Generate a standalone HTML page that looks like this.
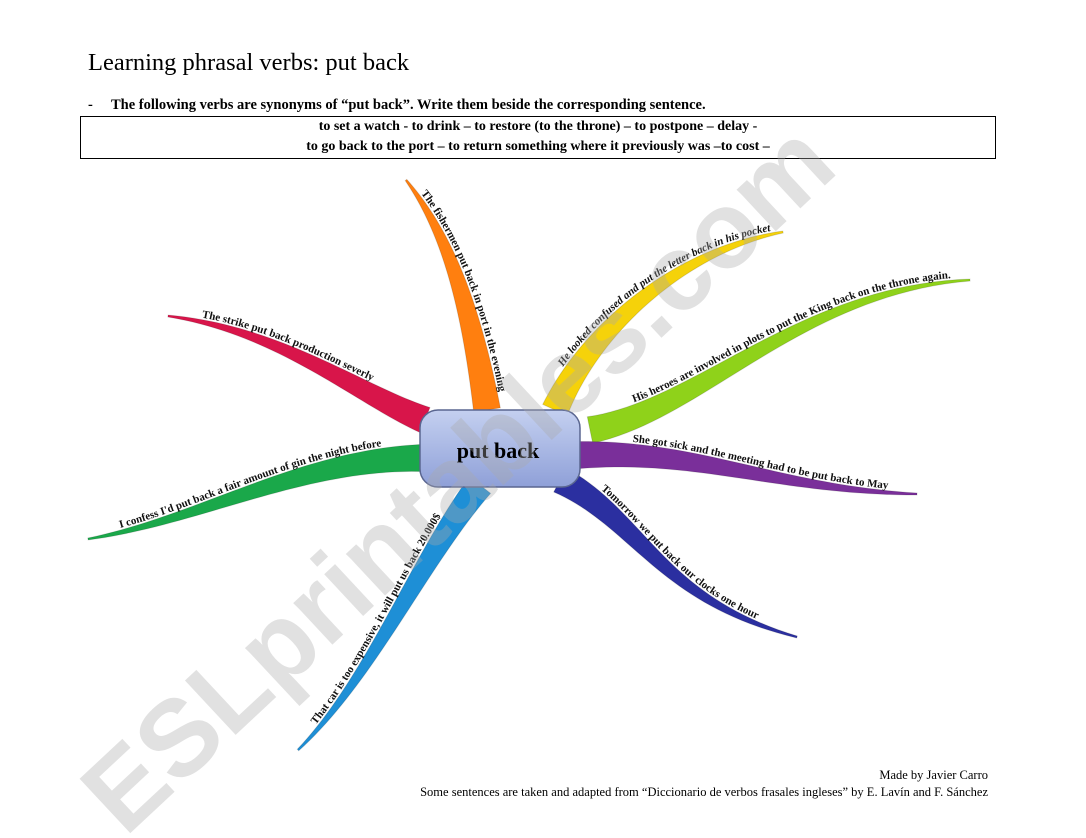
<!DOCTYPE html>
<html><head><meta charset="utf-8"><style>
body{margin:0;background:#fff;width:1086px;height:838px;overflow:hidden;position:relative;font-family:"Liberation Serif",serif;}
.t{position:absolute;left:88px;top:49px;font-size:24.5px;}
.i{position:absolute;left:88px;top:97px;font-size:14.5px;font-weight:bold;}
.box{position:absolute;left:80px;top:116px;width:914px;height:41px;border:1px solid #000;text-align:center;font-weight:bold;font-size:14px;line-height:20px;}
.f{position:absolute;right:98px;font-size:12.5px;text-align:right;}
svg{position:absolute;left:0;top:0;}
</style></head><body>
<div class="t">Learning phrasal verbs: put back</div>
<div class="i">-&nbsp;&nbsp;&nbsp;&nbsp;&nbsp;The following verbs are synonyms of “put back”. Write them beside the corresponding sentence.</div>
<div class="box">to set a watch - to drink – to restore (to the throne) – to postpone – delay -<br>to go back to the port – to return something where it previously was –to cost –</div>
<svg width="1086" height="838" id="s">
<defs>
<linearGradient id="g" x1="0" y1="0" x2="0" y2="1"><stop offset="0" stop-color="#c4d0f0"/><stop offset="1" stop-color="#8fa0d8"/></linearGradient>
<path id="tr" d=""/><path id="tg" d=""/><path id="tb" d=""/><path id="to" d=""/>
<path id="ty" d=""/><path id="tl" d=""/><path id="tp" d=""/><path id="tn" d=""/>
</defs>
<g id="br"></g>
<rect x="420" y="410" width="160" height="77" rx="18" fill="url(#g)" stroke="#5a6690" stroke-width="1.5"/>
<text x="498" y="458" text-anchor="middle" font-family="Liberation Serif" font-weight="bold" font-size="22">put back</text>
<g font-family="Liberation Serif" font-weight="bold" font-size="11" fill="#111">
<text><textPath href="#tr">The strike put back production severly</textPath></text>
<text><textPath href="#tg">I confess I'd put back a fair amount of gin the night before</textPath></text>
<text><textPath href="#tb">That car is too expensive, it will put us back 20.000$</textPath></text>
<text><textPath href="#to">The fishermen put back in port in the evening</textPath></text>
<text font-style="italic"><textPath href="#ty">He looked confused and put the letter back in his pocket</textPath></text>
<text><textPath href="#tl">His heroes are involved in plots to put the King back on the throne again.</textPath></text>
<text><textPath href="#tp">She got sick and the meeting had to be put back to May</textPath></text>
<text><textPath href="#tn">Tomorrow we put back our clocks one hour</textPath></text>
</g>
<text x="0" y="0" transform="translate(125,838) rotate(-43)" font-family="Liberation Sans" font-weight="bold" font-size="108" fill="#aaa" opacity="0.35">ESLprintables.com</text>
</svg>
<div class="f" style="top:768px">Made by Javier Carro</div>
<div class="f" style="top:785px">Some sentences are taken and adapted from “Diccionario de verbos frasales ingleses” by E. Lavín and F. Sánchez</div>
<script>
var B=[
["tr","#d8154a",[425,420],[360,395],[280,330],[168,316],-7,true],
["tg","#1aa84a",[420,458],[300,460],[200,520],[88,539],-7,true],
["tb","#1e8fd6",[480,485],[420,560],[370,680],[298,750],-9,true],
["to","#ff7f0f",[487,410],[470,300],[445,230],[406,180],10,true],
["ty","#f5d20a",[555,410],[590,330],[680,250],[783,232],-8,false],
["tl","#8fd21a",[590,430],[700,410],[800,290],[970,280],-9,false],
["tp","#7a2f9a",[580,455],[700,450],[780,490],[917,494],-7,false],
["tn","#2b2fa0",[560,480],[640,520],[660,600],[797,637],-9,false]];
function bz(a,b,c,d,t){var u=1-t;return [u*u*u*a[0]+3*u*u*t*b[0]+3*u*t*t*c[0]+t*t*t*d[0],u*u*u*a[1]+3*u*u*t*b[1]+3*u*t*t*c[1]+t*t*t*d[1]];}
var g=document.getElementById("br"),N=40;
B.forEach(function(b){
 var pts=[];for(var i=0;i<=N;i++)pts.push(bz(b[2],b[3],b[4],b[5],i/N));
 var L=[],R=[];
 for(var i=0;i<=N;i++){
  var a=pts[Math.max(0,i-1)],c=pts[Math.min(N,i+1)];
  var dx=c[0]-a[0],dy=c[1]-a[1],l=Math.hypot(dx,dy);var nx=dy/l,ny=-dx/l;
  var w=(1-i/N)*12.5+1;
  L.push([pts[i][0]+nx*w,pts[i][1]+ny*w]);R.push([pts[i][0]-nx*w,pts[i][1]-ny*w]);
 }
 var d="M"+L.map(p=>p.join(",")).join("L")+"L"+R.reverse().map(p=>p.join(",")).join("L")+"Z";
 var p=document.createElementNS("http://www.w3.org/2000/svg","path");p.setAttribute("d",d);p.setAttribute("fill",b[1]);
 p.setAttribute("stroke","#00000022");g.appendChild(p);
 var tp=[];var seq=b[7]?pts.slice().reverse():pts;
 for(var i=0;i<=N;i++){
  var a=seq[Math.max(0,i-1)],c=seq[Math.min(N,i+1)];
  var dx=c[0]-a[0],dy=c[1]-a[1],l=Math.hypot(dx,dy);
  var nx=dy/l,ny=-dx/l;
  var idx=b[7]?N-i:i;var w=(1-idx/N)*12.5+3;
  tp.push([seq[i][0]+nx*w,seq[i][1]+ny*w]);
 }
 var start=b[7]?4:6;
 document.getElementById(b[0]).setAttribute("d","M"+tp.slice(start).map(p=>p.join(",")).join("L"));
});
</script>
</body></html>
